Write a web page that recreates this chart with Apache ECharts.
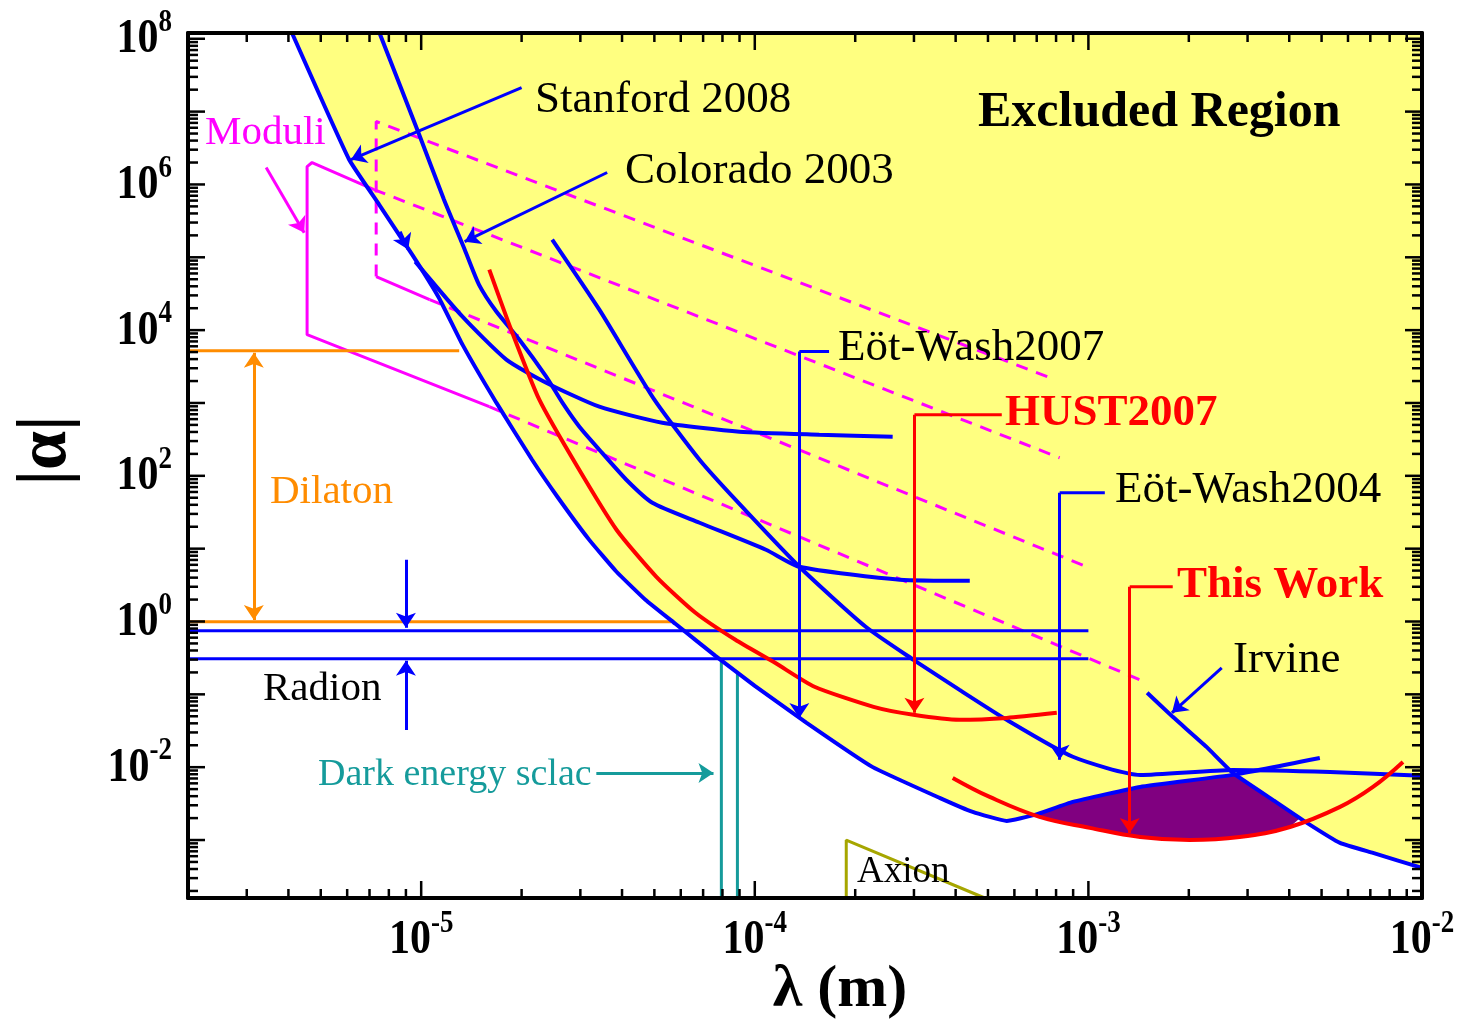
<!DOCTYPE html>
<html>
<head>
<meta charset="utf-8">
<title>Yukawa constraints</title>
<script src="https://cdn.jsdelivr.net/npm/echarts@6.0.0/dist/echarts.min.js"></script>
<style>
html, body { margin:0; padding:0; background:#ffffff; }
#chart { width:1465px; height:1032px; }
</style>
</head>
<body>
<div id="chart"></div>
<script>
// ---------------- axis ranges and tick values ----------------
const xRange = [2e-6, 1e-2];
const yRange = [1.6e-4, 1.2e8];
const xTickLabels = [1e-5, 1e-4, 1e-3, 1e-2];
const xMajorTicks = [1e-5, 1e-4, 1e-3];
const yTickLabels = [1e-2, 1, 1e2, 1e4, 1e6, 1e8];
const yMajorTicks = [1e-3, 1e-2, 1e-1, 1, 1e1, 1e2, 1e3, 1e4, 1e5, 1e6, 1e7, 1e8];
const minorMantissas = [2, 3, 4, 5, 6, 7, 8, 9];
const xDecades = [1e-6, 1e-5, 1e-4, 1e-3];
const yDecades = [1e-4, 1e-3, 1e-2, 1e-1, 1, 1e1, 1e2, 1e3, 1e4, 1e5, 1e6, 1e7];

// ---------------- curves  [lambda (m), |alpha|] ----------------
const lowerBound = [[4.1e-6,1.2e8],[6.08e-6,2.20e6],[7.48e-6,5.30e5],[9.4e-6,1.09e5],[1.13e-5,2.79e4],[1.33e-5,6.32e3],[1.68e-5,1.01e3],[2.15e-5,166],[2.56e-5,51.6],[3.19e-5,13.2],[3.85e-5,4.82],[4.70e-5,1.99],[5.78e-5,0.93],[7.62e-5,0.338],[1.0e-4,0.131],[1.43e-4,0.0406],[2.25e-4,0.0101],[3.58e-4,0.00379],[4.50e-4,0.00243],[5.69e-4,0.00183],[6.90e-4,0.00221],[8.98e-4,0.00334],[1.43e-3,0.00536],[2.71e-3,0.00784],[4.94e-3,0.0134]];
const colorado2003 = [[7.5e-6,1.2e8],[9.86e-6,4.84e6],[1.17e-5,6.21e5],[1.35e-5,1.28e5],[1.49e-5,4.22e4],[1.68e-5,1.80e4],[1.97e-5,7.40e3],[2.37e-5,2.30e3],[2.65e-5,1.01e3],[2.98e-5,472],[3.42e-5,228],[4.12e-5,88.4],[4.93e-5,42.7],[6.83e-5,22.7],[1.08e-4,9.66],[1.36e-4,5.64],[2.72e-4,3.74],[4.41e-4,3.62]];
const bentCurve = [[9.6e-6,8.73e4],[1.33e-5,1.53e4],[1.80e-5,3.94e3],[2.37e-5,1.90e3],[3.42e-5,889],[5.28e-5,536],[9.0e-5,404],[1.56e-4,367],[2.59e-4,344]];
const eotWash2004 = [[2.47e-5,1.75e5],[3.42e-5,1.91e4],[5.0e-5,1.11e3],[6.83e-5,166],[8.75e-5,47.0],[1.36e-4,5.64],[2.15e-4,0.846],[2.99e-4,0.298],[4.11e-4,0.115],[5.69e-4,0.0447],[8.98e-4,0.0139],[1.43e-3,0.00784],[2.71e-3,0.00918],[5.30e-3,0.00861],[1e-2,0.0076]];
const irvine = [[1.50e-3,0.105],[1.79e-3,0.0491],[2.26e-3,0.0190],[2.71e-3,0.00835],[3.57e-3,0.00356],[4.52e-3,0.00172],[5.68e-3,9.12e-4],[7.13e-3,6.65e-4],[1e-2,4.14e-4]];
const hust2007 = [[1.60e-5,6.78e4],[1.86e-5,1.02e4],[2.26e-5,1.11e3],[2.94e-5,133],[3.85e-5,18.2],[5.07e-5,4.11],[6.64e-5,1.32],[8.75e-5,0.561],[1.15e-4,0.271],[1.51e-4,0.127],[2.27e-4,0.0673],[2.99e-4,0.0523],[4.11e-4,0.0447],[5.69e-4,0.0475],[8.04e-4,0.0557]];
const thisWork = [[3.92e-4,0.00713],[5.06e-4,0.00391],[7.14e-4,0.00208],[1.01e-3,0.00147],[1.43e-3,0.00110],[2.01e-3,0.00100],[2.84e-3,0.00110],[4.02e-3,0.00151],[5.68e-3,0.00285],[7.13e-3,0.00536],[8.77e-3,0.0118]];

// ---------------- filled regions ----------------
const excludedRegion = [[4.1e-6,1.2e8],[6.08e-6,2.20e6],[7.48e-6,5.30e5],[9.4e-6,1.09e5],[1.13e-5,2.79e4],[1.33e-5,6.32e3],[1.68e-5,1.01e3],[2.15e-5,166],[2.56e-5,51.6],[3.19e-5,13.2],[3.85e-5,4.82],[4.70e-5,1.99],[5.78e-5,0.93],[7.62e-5,0.338],[1.0e-4,0.131],[1.43e-4,0.0406],[2.25e-4,0.0101],[3.58e-4,0.00379],[4.50e-4,0.00243],[5.69e-4,0.00183],[6.90e-4,0.00221],[8.98e-4,0.00334],[1.43e-3,0.00536],[2.71e-3,0.0080],[3.57e-3,0.00356],[4.52e-3,0.00172],[5.68e-3,9.12e-4],[7.13e-3,6.65e-4],[1e-2,4.14e-4],[1e-2,1.2e8]];
const improvedRegion = [[6.90e-4,0.00221],[8.98e-4,0.00334],[1.43e-3,0.00536],[2.71e-3,0.0080],[3.57e-3,0.00356],[4.31e-3,0.00201],[4.02e-3,0.00151],[2.84e-3,0.00110],[2.01e-3,0.00100],[1.43e-3,0.00110],[1.01e-3,0.00147],[7.14e-4,0.00208]];

// ---------------- theory lines ----------------
const moduliSolidA = [[7.22e-6,8.51e5],[4.71e-6,2.00e6],[4.55e-6,1.76e6],[4.55e-6,8.67e3],[1.60e-5,889]];
const moduliDashA1 = [[7.22e-6,8.51e5],[8.20e-4,177]];
const moduliDashA2 = [[1.60e-5,889],[1.50e-3,0.144]];
const moduliDashB = [[7.33e-6,5.43e4],[7.33e-6,7.31e6],[7.66e-4,2.23e3]];
const moduliSolidB = [[7.33e-6,5.43e4],[1.06e-5,2.62e4]];
const moduliDashB2 = [[1.06e-5,2.62e4],[9.89e-4,5.64]];
const dilatonUpper = [[2e-6,5.23e3],[1.30e-5,5.23e3]];
const dilatonLower = [[2e-6,0.99],[5.62e-5,0.99]];
const radionUpper = [[2e-6,0.745],[1e-3,0.745]];
const radionLower = [[2e-6,0.307],[1e-3,0.307]];
const darkEnergyA = [[7.94e-5,1.6e-4],[7.94e-5,0.297]];
const darkEnergyB = [[8.87e-5,1.6e-4],[8.87e-5,0.197]];
const axion = [[1.88e-4,1.6e-4],[1.88e-4,0.001],[4.89e-4,1.6e-4]];

// ---------------- annotation pointers ----------------
const blueArrows = [
  [[2.0e-5,2.14e7],[6.16e-6,2.20e6]],
  [[3.61e-5,1.46e6],[1.35e-5,1.64e5]],
  [[1.36e-4,5.07e3],[1.36e-4,0.0475]],
  [[8.2e-4,58.6],[8.2e-4,0.0126]],
  [[2.51e-3,0.231],[1.78e-3,0.0557]],
  [[9.0e-6,7.04],[9.0e-6,0.82]],
  [[9.0e-6,0.0325],[9.0e-6,0.289]],
  [[8.65e-6,2.25e5],[9.14e-6,1.28e5]]
];
const blueLeaders = [
  [[1.67e-4,5.07e3],[1.36e-4,5.07e3]],
  [[1.12e-3,58.6],[8.2e-4,58.6]]
];
const redArrows = [
  [[3.01e-4,691],[3.01e-4,0.0557]],
  [[1.33e-3,3.0],[1.33e-3,0.00125]]
];
const redLeaders = [
  [[5.5e-4,691],[3.01e-4,691]],
  [[1.79e-3,3.0],[1.33e-3,3.0]]
];
const moduliArrow = [[3.43e-6,1.71e6],[4.46e-6,2.18e5]];
const dilatonArrow = [[3.15e-6,4.91e3],[3.15e-6,1.05]];
const darkEnergyArrow = [[3.35e-5,0.00835],[7.52e-5,0.00835]];

// ---------------- styling ----------------
const FONT = 'Liberation Serif';
const BLUE = '#0000ff', RED = '#ff0000', MAG = '#ff00ff', ORANGE = '#ff8c00', TEAL = '#159b9b', OLIVE = '#a6a600';

function decadeMinors(decades, lo, hi) {
  const out = [];
  decades.forEach(d => minorMantissas.forEach(m => { const v = m * d; if (v > lo * 1.0001 && v < hi) out.push(v); }));
  return out;
}
const xMinorTicks = decadeMinors(xDecades, xRange[0], xRange[1]);
const yMinorTicks = decadeMinors(yDecades, yRange[0], yRange[1]);

const RICH = {
  b: { fontFamily: FONT, fontWeight: 'bold', fontSize: 42, lineHeight: 56, fill: '#000' },
  s: { fontFamily: FONT, fontWeight: 'bold', fontSize: 27, lineHeight: 16, verticalAlign: 'top', fill: '#000' }
};
function expText(v) { return '{b|10}{s|' + Math.round(Math.log10(v)) + '}'; }

function curve(name, data, color, width, z, dash, smooth) {
  return { type: 'line', name, data, symbol: 'none', showSymbol: false, smooth: smooth || false,
    lineStyle: { color, width, type: dash || 'solid' }, z: z, silent: true, clip: true };
}
function arrowSeries(list, color, width, sym) {
  return { type: 'lines', coordinateSystem: 'cartesian2d', silent: true, z: 7,
    symbol: sym || ['none', 'arrow'], symbolSize: 15,
    lineStyle: { color, width, opacity: 1, curveness: 0 },
    data: list.map(c => ({ coords: c })) };
}
function polygonSeries(points, color, z) {
  return { type: 'custom', coordinateSystem: 'cartesian2d', silent: true, z: z, data: points,
    renderItem: function (params, api) {
      if (params.dataIndex !== 0) return null;
      const pts = points.map(p => api.coord(p));
      return { type: 'polygon', shape: { points: pts, smooth: 0 }, style: { fill: color, stroke: null } };
    } };
}
function xTickSeries(values, len) {
  return { type: 'custom', coordinateSystem: 'cartesian2d', silent: true, z: 12,
    data: values.map(v => [v, 1]),
    renderItem: function (params, api) {
      const cs = params.coordSys;
      const x = api.coord([api.value(0), 1])[0];
      const b = cs.y + cs.height;
      return { type: 'group', children: [
        { type: 'line', shape: { x1: x, y1: b, x2: x, y2: b - len }, style: { stroke: '#000', lineWidth: 2.5 } },
        { type: 'line', shape: { x1: x, y1: cs.y, x2: x, y2: cs.y + len }, style: { stroke: '#000', lineWidth: 2.5 } }
      ] };
    } };
}
function yTickSeries(values, len) {
  return { type: 'custom', coordinateSystem: 'cartesian2d', silent: true, z: 12,
    data: values.map(v => [1e-4, v]),
    renderItem: function (params, api) {
      const cs = params.coordSys;
      const y = api.coord([1e-4, api.value(1)])[1];
      const r = cs.x + cs.width;
      return { type: 'group', children: [
        { type: 'line', shape: { x1: cs.x, y1: y, x2: cs.x + len, y2: y }, style: { stroke: '#000', lineWidth: 2.5 } },
        { type: 'line', shape: { x1: r, y1: y, x2: r - len, y2: y }, style: { stroke: '#000', lineWidth: 2.5 } }
      ] };
    } };
}
const LABEL_STRETCH = 1.16;
const xLabelSeries = { type: 'custom', coordinateSystem: 'cartesian2d', silent: true, z: 12,
  data: xTickLabels.map(v => [v, 1]),
  renderItem: function (params, api) {
    const cs = params.coordSys;
    const v = api.value(0);
    const x = api.coord([v, 1])[0];
    return { type: 'text', x: x, y: cs.y + cs.height + 10, scaleY: LABEL_STRETCH,
      style: { text: expText(v), rich: RICH, align: 'center', verticalAlign: 'top', fill: '#000' } };
  } };
const yLabelSeries = { type: 'custom', coordinateSystem: 'cartesian2d', silent: true, z: 12,
  data: yTickLabels.map(v => [1e-4, v]),
  renderItem: function (params, api) {
    const cs = params.coordSys;
    const v = api.value(1);
    const y = api.coord([1e-4, v])[1];
    return { type: 'text', x: cs.x - 16, y: y + 1, scaleY: LABEL_STRETCH,
      style: { text: expText(v), rich: RICH, align: 'right', verticalAlign: 'middle', fill: '#000' } };
  } };

function baseAxis(extra) {
  return Object.assign({ type: 'log', logBase: 10, gridIndex: 0, z: 10,
    axisLine: { show: true, onZero: false, lineStyle: { color: '#000', width: 4 } },
    axisTick: { show: false }, minorTick: { show: false },
    axisLabel: { show: false }, splitLine: { show: false }, minorSplitLine: { show: false } }, extra);
}

function txt(text, x, y, size, color, bold) {
  return { type: 'text', x: x, y: y, z: 100,
    style: { text: text, fontFamily: FONT, fontSize: size, fontWeight: bold ? 'bold' : 'normal',
      fill: color, align: 'left', verticalAlign: 'middle' } };
}

const SM = 0.2;
const option = {
  animation: false,
  backgroundColor: '#ffffff',
  grid: { left: 188, top: 33, width: 1234, height: 865, containLabel: false, outerBoundsMode: 'none', show: false },
  xAxis: [
    baseAxis({ position: 'bottom', min: xRange[0], max: xRange[1],
      name: 'λ (m)', nameLocation: 'middle', nameGap: 62,
      nameTextStyle: { fontFamily: FONT, fontWeight: 'bold', fontSize: 60, color: '#000', padding: [0, 0, 0, 70] } }),
    baseAxis({ position: 'top', min: xRange[0], max: xRange[1] })
  ],
  yAxis: [
    baseAxis({ position: 'left', min: yRange[0], max: yRange[1],
      name: '|α|', nameLocation: 'middle', nameGap: 106, nameRotate: 90,
      nameTextStyle: { fontFamily: FONT, fontWeight: 'bold', fontSize: 70, color: '#000', padding: [0, 0, 0, 30] } }),
    baseAxis({ position: 'right', min: yRange[0], max: yRange[1] })
  ],
  series: [
    polygonSeries(excludedRegion, '#ffff80', 1),
    polygonSeries(improvedRegion, '#800080', 2),
    curve('Moduli', moduliSolidA, MAG, 3, 3),
    curve('Moduli A1', moduliDashA1, MAG, 3, 3, [12, 9]),
    curve('Moduli A2', moduliDashA2, MAG, 3, 3, [12, 9]),
    curve('Moduli B', moduliDashB, MAG, 3, 3, [12, 9]),
    curve('Moduli B solid', moduliSolidB, MAG, 3, 3),
    curve('Moduli B2', moduliDashB2, MAG, 3, 3, [12, 9]),
    curve('Dilaton upper', dilatonUpper, ORANGE, 3, 3),
    curve('Dilaton lower', dilatonLower, ORANGE, 3, 3),
    curve('Dark energy A', darkEnergyA, TEAL, 3, 3),
    curve('Dark energy B', darkEnergyB, TEAL, 3, 3),
    curve('Axion', axion, OLIVE, 3, 3),
    curve('Radion upper', radionUpper, BLUE, 3, 4),
    curve('Radion lower', radionLower, BLUE, 3, 4),
    curve('Stanford 2008 / Eöt-Wash2007', lowerBound, BLUE, 4, 5, 'solid', 0.12),
    curve('Colorado 2003', colorado2003, BLUE, 4, 5, 'solid', SM),
    curve('Short range', bentCurve, BLUE, 4, 5, 'solid', SM),
    curve('Eöt-Wash2004', eotWash2004, BLUE, 4, 5, 'solid', SM),
    curve('Irvine', irvine, BLUE, 4, 5, 'solid', 0.12),
    curve('HUST2007', hust2007, RED, 4, 6, 'solid', SM),
    curve('This Work', thisWork, RED, 4, 6, 'solid', 0.4),
    curve('blue leaders', blueLeaders[0], BLUE, 3, 7),
    curve('blue leaders 2', blueLeaders[1], BLUE, 3, 7),
    curve('red leaders', redLeaders[0], RED, 3, 7),
    curve('red leaders 2', redLeaders[1], RED, 3, 7),
    arrowSeries(blueArrows, BLUE, 3),
    arrowSeries(redArrows, RED, 3),
    arrowSeries([moduliArrow], MAG, 3),
    arrowSeries([dilatonArrow], ORANGE, 3, ['arrow', 'arrow']),
    arrowSeries([darkEnergyArrow], TEAL, 3),
    xTickSeries(xMajorTicks, 17),
    xTickSeries(xMinorTicks, 9),
    yTickSeries(yMajorTicks, 17),
    yTickSeries(yMinorTicks, 10),
    xLabelSeries,
    yLabelSeries
  ],
  graphic: [
    txt('Excluded Region', 978, 113, 50, '#000', true),
    txt('Stanford 2008', 535, 100, 45, '#000'),
    txt('Colorado 2003', 625, 171, 45, '#000'),
    txt('Eöt-Wash2007', 838, 348, 45, '#000'),
    txt('HUST2007', 1005, 413, 45, RED, true),
    txt('Eöt-Wash2004', 1115, 490, 45, '#000'),
    txt('This Work', 1177, 585, 45, RED, true),
    txt('Irvine', 1233, 660, 45, '#000'),
    txt('Moduli', 205, 133, 41, MAG),
    txt('Dilaton', 270, 492, 41, ORANGE),
    txt('Radion', 263, 689, 41, '#000'),
    txt('Dark energy sclac', 318, 775, 38, TEAL),
    txt('Axion', 857, 872, 37, '#000')
  ]
};

const chart = echarts.init(document.getElementById('chart'), null, { renderer: 'canvas' });
chart.setOption(option);
</script>
</body>
</html>
